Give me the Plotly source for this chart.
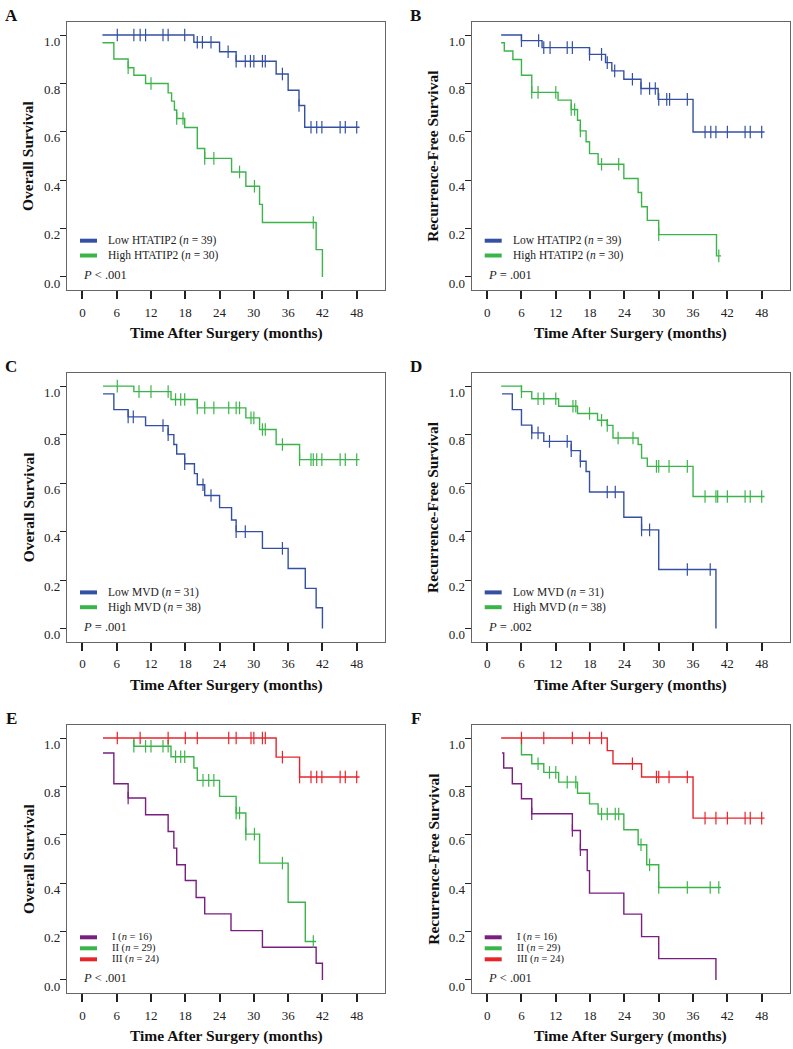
import plotly.graph_objects as go

# ---------------- data ----------------
# Panel A  (Overall survival, HTATIP2)
A_low_t = [3.5, 19.5, 24.0, 26.9, 33.9, 36.0, 37.9, 38.9, 48.5]
A_low_s = [1.0, 0.970, 0.931, 0.892, 0.839, 0.772, 0.709, 0.619, 0.619]
A_low_c = [6.1, 9.0, 10.1, 11.05, 14.1, 15.0, 17.9, 20.1, 21.0, 22.5, 25.5, 26.9, 28.5, 29.4,
           30.0, 31.5, 32.0, 35.0, 37.9, 40.0, 41.0, 41.9, 45.1, 46.0, 48.0]
A_high_t = [3.5, 5.5, 8.0, 9.0, 11.05, 15.0, 15.6, 16.1, 16.5, 17.9, 20.1, 21.4, 26.1, 28.6, 31.0, 31.5, 40.9, 42.0]
A_high_s = [0.968, 0.901, 0.865, 0.834, 0.800, 0.761, 0.727, 0.690, 0.655, 0.618, 0.531, 0.490, 0.434,
            0.375, 0.300, 0.225, 0.113, 0.0]
A_high_c = [8.0, 12.0, 16.5, 17.6, 21.4, 23.0, 27.5, 30.1, 40.4]

# Panel B  (Recurrence-free survival, HTATIP2)
B_low_t = [2.45, 6.0, 9.6, 17.9, 20.7, 21.8, 23.9, 26.9, 29.9, 36.0, 48.5]
B_low_s = [1.0, 0.977, 0.948, 0.920, 0.886, 0.852, 0.817, 0.779, 0.734, 0.599, 0.599]
B_low_c = [6.0, 9.0, 9.9, 11.0, 14.0, 14.9, 17.9, 20.0, 21.0, 22.3, 25.4, 26.9, 28.4, 29.4, 30.0,
           31.4, 31.9, 35.0, 38.1, 39.1, 40.0, 42.0, 45.1, 46.0, 48.0]
B_high_t = [2.45, 3.0, 4.5, 6.0, 7.8, 12.4, 14.7, 15.8, 16.3, 17.3, 17.9, 19.4, 23.9, 26.4, 27.0, 28.0, 30.0, 40.1, 40.9]
B_high_s = [0.968, 0.934, 0.899, 0.834, 0.763, 0.731, 0.692, 0.648, 0.604, 0.559, 0.510, 0.466, 0.407,
            0.349, 0.290, 0.234, 0.175, 0.087, 0.087]
B_high_c = [7.8, 8.9, 12.0, 14.7, 15.3, 16.3, 20.0, 23.0, 30.0, 40.5]

# Panel C  (Overall survival, MVD)
C_low_t = [3.6, 5.5, 8.0, 11.05, 15.0, 16.0, 16.5, 17.9, 19.6, 20.1, 21.4, 24.0, 26.1, 26.9, 31.5, 36.0, 39.0, 40.9, 42.0]
C_low_s = [0.968, 0.903, 0.873, 0.837, 0.800, 0.759, 0.720, 0.680, 0.639, 0.593, 0.549, 0.499, 0.448,
           0.400, 0.331, 0.248, 0.166, 0.086, 0.0]
C_low_c = [8.0, 8.9, 14.1, 15.0, 17.9, 21.1, 22.5, 26.9, 28.5, 35.0]
C_high_t = [3.6, 9.0, 15.5, 20.1, 28.6, 31.0, 33.9, 38.0, 48.5]
C_high_s = [1.0, 0.977, 0.945, 0.910, 0.869, 0.821, 0.759, 0.697, 0.697]
C_high_c = [6.1, 9.9, 12.0, 15.0, 16.3, 17.2, 17.9, 20.1, 21.4, 23.0, 25.6, 26.9, 27.5, 29.5, 30.0,
            31.5, 32.0, 35.0, 38.0, 40.0, 40.4, 41.0, 41.9, 45.1, 46.0, 48.0]

# Panel D  (Recurrence-free survival, MVD)
D_low_t = [2.6, 4.4, 6.0, 7.8, 9.9, 14.7, 16.3, 17.3, 17.9, 23.9, 27.0, 30.0, 40.0]
D_low_s = [0.968, 0.903, 0.839, 0.807, 0.772, 0.734, 0.690, 0.648, 0.563, 0.459, 0.407, 0.244, 0.0]
D_low_c = [7.8, 8.9, 10.9, 14.0, 14.7, 16.3, 21.0, 22.4, 27.0, 28.4, 35.0, 39.0]
D_high_t = [2.45, 6.0, 7.8, 12.5, 15.8, 19.3, 21.0, 22.0, 26.4, 27.0, 28.0, 36.0, 48.5]
D_high_s = [1.0, 0.977, 0.948, 0.917, 0.887, 0.859, 0.838, 0.786, 0.759, 0.703, 0.669, 0.545, 0.545]
D_high_c = [6.0, 8.9, 9.9, 12.0, 15.0, 15.5, 17.9, 20.0, 21.0, 22.9, 25.5, 29.6, 30.0, 31.8, 35.0,
            38.1, 40.0, 40.3, 42.0, 45.1, 46.0, 48.0]

# Panel E  (Overall survival, stage I / II / III)
E_I_t = [3.6, 5.5, 8.0, 11.05, 15.0, 16.0, 16.5, 18.0, 19.9, 21.4, 26.0, 31.5, 40.9, 42.0]
E_I_s = [0.938, 0.811, 0.752, 0.683, 0.614, 0.545, 0.476, 0.411, 0.341, 0.273, 0.204, 0.135, 0.069, 0.0]
E_I_c = [8.0]
E_II_t = [9.0, 9.0, 15.5, 19.5, 20.1, 24.0, 26.9, 28.6, 31.0, 36.0, 39.0, 40.9]
E_II_s = [1.0, 0.966, 0.923, 0.876, 0.825, 0.759, 0.690, 0.603, 0.483, 0.321, 0.159, 0.159]
E_II_c = [9.0, 11.05, 12.0, 14.1, 15.0, 16.3, 17.2, 17.9, 21.1, 22.1, 23.0, 26.9, 27.5, 28.6, 30.1, 35.0, 40.4]
E_III_t = [3.6, 33.9, 38.0, 48.5]
E_III_s = [1.0, 0.921, 0.839, 0.839]
E_III_c = [6.1, 10.1, 15.0, 18.0, 20.1, 25.6, 26.9, 29.5, 30.0, 31.5, 32.0, 35.0, 38.0, 40.0, 41.0,
           41.9, 45.1, 46.0, 48.0]

# Panel F  (Recurrence-free survival, stage I / II / III)
F_I_t = [2.6, 2.9, 4.4, 6.0, 7.8, 14.9, 16.3, 17.5, 17.9, 23.9, 27.0, 30.0, 40.0]
F_I_s = [0.938, 0.876, 0.811, 0.749, 0.687, 0.618, 0.538, 0.452, 0.359, 0.272, 0.179, 0.088, 0.0]
F_I_c = [7.8, 14.9, 16.3]
F_II_t = [6.0, 6.0, 7.8, 9.9, 12.5, 15.8, 17.9, 19.4, 23.9, 26.4, 27.9, 30.0, 40.9]
F_II_s = [1.0, 0.931, 0.894, 0.858, 0.818, 0.772, 0.728, 0.686, 0.621, 0.559, 0.476, 0.382, 0.382]
F_II_c = [8.9, 10.9, 12.0, 14.0, 15.5, 20.0, 21.0, 22.4, 23.0, 26.9, 28.4, 30.0, 35.0, 39.0, 40.5]
F_III_t = [2.45, 21.0, 22.0, 27.0, 36.0, 48.5]
F_III_s = [1.0, 0.948, 0.894, 0.839, 0.669, 0.669]
F_III_c = [6.0, 9.9, 14.9, 17.9, 20.0, 25.4, 29.6, 30.0, 31.8, 35.0, 38.1, 40.0, 42.0, 45.1, 46.0, 48.0]

x_ticks = [0, 6, 12, 18, 24, 30, 36, 42, 48]
y_ticks = [0.0, 0.2, 0.4, 0.6, 0.8, 1.0]
y_tick_text = ["0.0", "0.2", "0.4", "0.6", "0.8", "1.0"]

BLUE = "#3450a2"
GREEN = "#3bb54a"
RED = "#e8242b"
PURPLE = "#7a1f80"

panels = [
    dict(letter="A", ytitle="Overall Survival", p="<i>P</i> &lt; .001",
         curves=[("Low HTATIP2 (<i>n</i> = 39)", BLUE, A_low_t, A_low_s, A_low_c),
                 ("High HTATIP2 (<i>n</i> = 30)", GREEN, A_high_t, A_high_s, A_high_c)]),
    dict(letter="B", ytitle="Recurrence-Free Survival", p="<i>P</i> = .001",
         curves=[("Low HTATIP2 (<i>n</i> = 39)", BLUE, B_low_t, B_low_s, B_low_c),
                 ("High HTATIP2 (<i>n</i> = 30)", GREEN, B_high_t, B_high_s, B_high_c)]),
    dict(letter="C", ytitle="Overall Survival", p="<i>P</i> = .001",
         curves=[("Low MVD (<i>n</i> = 31)", BLUE, C_low_t, C_low_s, C_low_c),
                 ("High MVD (<i>n</i> = 38)", GREEN, C_high_t, C_high_s, C_high_c)]),
    dict(letter="D", ytitle="Recurrence-Free Survival", p="<i>P</i> = .002",
         curves=[("Low MVD (<i>n</i> = 31)", BLUE, D_low_t, D_low_s, D_low_c),
                 ("High MVD (<i>n</i> = 38)", GREEN, D_high_t, D_high_s, D_high_c)]),
    dict(letter="E", ytitle="Overall Survival", p="<i>P</i> &lt; .001",
         curves=[("I (<i>n</i> = 16)", PURPLE, E_I_t, E_I_s, E_I_c),
                 ("II (<i>n</i> = 29)", GREEN, E_II_t, E_II_s, E_II_c),
                 ("III (<i>n</i> = 24)", RED, E_III_t, E_III_s, E_III_c)]),
    dict(letter="F", ytitle="Recurrence-Free Survival", p="<i>P</i> &lt; .001",
         curves=[("I (<i>n</i> = 16)", PURPLE, F_I_t, F_I_s, F_I_c),
                 ("II (<i>n</i> = 29)", GREEN, F_II_t, F_II_s, F_II_c),
                 ("III (<i>n</i> = 24)", RED, F_III_t, F_III_s, F_III_c)]),
]

# ---------------- layout geometry (pixels) ----------------
W, H = 793, 1049
COLS = [(67.0, 385.0), (471.7, 790.0)]
ROWS = [(22.0, 290.0), (373.0, 641.7), (725.0, 993.0)]
FONT = "Liberation Serif"


def px(x):
    return x / W


def py(y):
    return 1 - y / H


def step_value(t, s, c):
    val = s[0]
    for ti, si in zip(t, s):
        if ti <= c:
            val = si
        else:
            break
    return val


fig = go.Figure()
layout = dict(width=W, height=H, margin=dict(l=0, r=0, t=0, b=0),
              paper_bgcolor="white", plot_bgcolor="white", showlegend=False,
              font=dict(family=FONT, color="#222"))
annotations = []
shapes = []

for i, pan in enumerate(panels):
    r, cidx = divmod(i, 2)
    x0, x1 = COLS[cidx]
    y0, y1 = ROWS[r]
    n = i + 1
    xa = "x" if n == 1 else f"x{n}"
    ya = "y" if n == 1 else f"y{n}"
    layout[f"xaxis{'' if n == 1 else n}"] = dict(
        domain=[px(x0), px(x1)], anchor=ya, range=[-2.7, 52.95],
        tickvals=x_ticks, ticks="outside", ticklen=8, tickwidth=1.5, tickcolor="#222",
        showline=True, mirror=True, linecolor="#666", linewidth=1.2,
        showgrid=False, zeroline=False, tickfont=dict(family=FONT, size=13, color="#222"),
        ticklabelstandoff=2)
    layout[f"yaxis{'' if n == 1 else n}"] = dict(
        domain=[py(y1), py(y0)], anchor=xa, range=[-0.054, 1.054],
        tickvals=y_ticks, ticktext=y_tick_text, ticks="outside", ticklen=6, tickwidth=1.2,
        tickcolor="#222", showline=True, mirror=True, linecolor="#666", linewidth=1.2,
        showgrid=False, zeroline=False, tickfont=dict(family=FONT, size=13, color="#222"),
        ticklabelstandoff=-3, ticklabelshift=6)

    for name, color, t, s, cens in pan["curves"]:
        fig.add_trace(go.Scatter(x=t, y=s, mode="lines", line=dict(color=color, width=1.4, shape="hv"),
                                 xaxis=xa, yaxis=ya, name=name, hoverinfo="skip"))
        fig.add_trace(go.Scatter(x=cens, y=[step_value(t, s, c) for c in cens], mode="markers",
                                 marker=dict(symbol="line-ns", size=9, line=dict(color=color, width=1.2)),
                                 xaxis=xa, yaxis=ya, hoverinfo="skip"))

    # panel letter
    annotations.append(dict(text=f"<b>{pan['letter']}</b>", x=px(x0 - 56), y=py(y0 - 7),
                            xref="paper", yref="paper", showarrow=False, xanchor="center",
                            yanchor="middle", font=dict(family=FONT, size=17, color="#111")))
    # y title
    annotations.append(dict(text=f"<b>{pan['ytitle']}</b>", x=px(x0 - 39), y=py((y0 + y1) / 2),
                            xref="paper", yref="paper", showarrow=False, textangle=-90,
                            xanchor="center", yanchor="middle",
                            font=dict(family=FONT, size=15.5, color="#111")))
    # x title
    annotations.append(dict(text="<b>Time After Surgery (months)</b>", x=px((x0 + x1) / 2),
                            y=py(y1 + 43), xref="paper", yref="paper", showarrow=False,
                            xanchor="center", yanchor="middle",
                            font=dict(family=FONT, size=15.5, color="#111")))
    # legend
    ncur = len(pan["curves"])
    if ncur == 2:
        rows_dy = [-49.3, -34.5]
        fsize = 11.5
        txt_dx = 39
    else:
        rows_dy = [-55.7, -44.7, -33.7]
        fsize = 10.5
        txt_dx = 43
    for (name, color, *_), dy in zip(pan["curves"], rows_dy):
        shapes.append(dict(type="line", xref="paper", yref="paper",
                           x0=px(x0 + 13), x1=px(x0 + 30), y0=py(y1 + dy), y1=py(y1 + dy),
                           line=dict(color=color, width=4)))
        annotations.append(dict(text=name, x=px(x0 + txt_dx), y=py(y1 + dy), xref="paper",
                                yref="paper", showarrow=False, xanchor="left", yanchor="middle",
                                font=dict(family=FONT, size=fsize, color="#222")))
    annotations.append(dict(text=pan["p"], x=px(x0 + 14), y=py(y1 - 15), xref="paper", yref="paper",
                            showarrow=False, xanchor="left", yanchor="middle",
                            font=dict(family=FONT, size=12.5, color="#222")))

layout["annotations"] = annotations
layout["shapes"] = shapes
fig.update_layout(**layout)
fig.write_html("out.html", config={"displayModeBar": False},
               post_script="document.body.style.margin='0';document.documentElement.style.overflow='hidden';")
